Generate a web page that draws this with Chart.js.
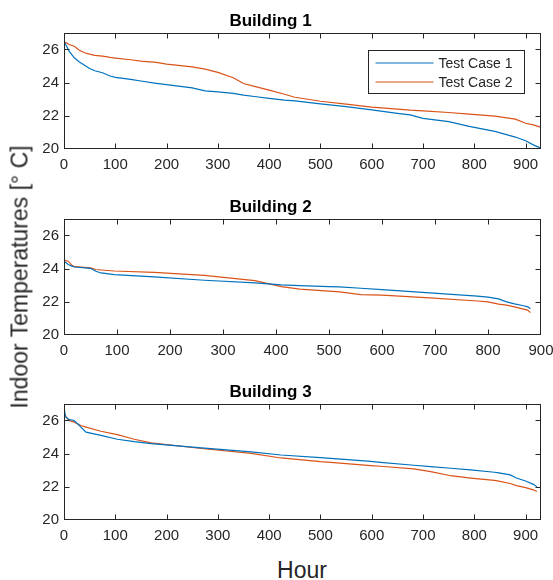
<!DOCTYPE html>
<html>
<head>
<meta charset="utf-8">
<script src="https://cdn.jsdelivr.net/npm/chart.js@4.4.1/dist/chart.umd.min.js"></script>
<style>
  body { margin: 0; background: #fff; }
  #fig { position: relative; width: 553px; height: 580px; font-family: "Liberation Sans", Arial, sans-serif; color: #262626; }
  #fig canvas { position: absolute; left: 0; }
  .ylab { position: absolute; left: 20px; top: 277px; font-size: 23px; white-space: nowrap;
          transform: translate(-50%, -50%) rotate(-90deg); }
  .xlab { position: absolute; left: 302px; top: 570px; font-size: 23px; transform: translate(-50%, -50%); }
</style>
</head>
<body>
<div id="fig">
  <canvas id="c1" width="553" height="174" style="top:0px"></canvas>
  <canvas id="c2" width="553" height="174" style="top:186px"></canvas>
  <canvas id="c3" width="553" height="174" style="top:371px"></canvas>
  <div class="ylab">Indoor Temperatures [° C]</div>
  <div class="xlab">Hour</div>
</div>
<script>
// series names
const seriesNames = ['Test Case 1', 'Test Case 2'];

// tick labels
const xTicks = [0, 100, 200, 300, 400, 500, 600, 700, 800, 900];
const yTicks = [20, 22, 24, 26];

// Building 1
const b1Hours = [0, 5, 10, 20, 30, 40, 50, 60, 75, 90, 100, 130, 150, 180, 200, 250, 275, 300, 330, 350,
                 375, 400, 430, 450, 500, 550, 600, 650, 675, 700, 750, 790, 840, 880, 900, 915, 930];
const b1Case1 = [26.5, 26.2, 25.9, 25.5, 25.25, 25.05, 24.85, 24.72, 24.6, 24.4, 24.32, 24.2, 24.1, 23.96, 23.88, 23.68, 23.5, 23.45, 23.35, 23.25,
                 23.15, 23.05, 22.95, 22.9, 22.72, 22.55, 22.36, 22.15, 22.06, 21.85, 21.65, 21.36, 21.06, 20.72, 20.5, 20.25, 20.05];
const b1Case2 = [26.45, 26.4, 26.3, 26.2, 25.95, 25.8, 25.72, 25.65, 25.6, 25.52, 25.48, 25.38, 25.3, 25.22, 25.12, 24.95, 24.82, 24.62, 24.3, 23.95,
                 23.75, 23.55, 23.3, 23.12, 22.88, 22.7, 22.52, 22.4, 22.34, 22.3, 22.2, 22.1, 21.98, 21.8, 21.55, 21.45, 21.3];

// Building 2
const b2Hours = [0, 8, 15, 20, 50, 60, 70, 95, 170, 265, 360, 385, 410, 445, 500, 520, 560, 600, 690, 780,
                 800, 820, 835, 850, 865, 875, 880];
const b2Case1 = [24.45, 24.25, 24.15, 24.1, 24.02, 23.84, 23.74, 23.64, 23.5, 23.3, 23.14, 23.08, 23.02, 22.98, 22.92, 22.9, 22.82, 22.74, 22.54, 22.34,
                 22.28, 22.18, 22.0, 21.88, 21.78, 21.7, 21.58];
const b2Case2 = [24.5, 24.45, 24.2, 24.12, 24.05, 23.95, 23.92, 23.86, 23.77, 23.6, 23.28, 23.1, 22.92, 22.77, 22.65, 22.6, 22.44, 22.4, 22.24, 22.05,
                 22.0, 21.86, 21.8, 21.7, 21.58, 21.5, 21.35];

// Building 3
const b3Hours = [0, 2, 4, 10, 20, 33, 43, 72, 104, 137, 170, 268, 365, 423, 500, 520, 598, 617, 682, 715,
                 754, 793, 839, 845, 870, 882, 900, 915, 922];
const b3Case1 = [26.8, 26.4, 26.2, 26.05, 26.0, 25.6, 25.3, 25.1, 24.87, 24.72, 24.61, 24.35, 24.11, 23.92, 23.76, 23.72, 23.53, 23.48, 23.3, 23.22,
                 23.12, 23.02, 22.88, 22.86, 22.72, 22.53, 22.35, 22.15, 22.0];
const b3Case2 = [26.5, 26.3, 26.2, 26.0, 25.9, 25.7, 25.6, 25.35, 25.15, 24.87, 24.65, 24.31, 24.02, 23.74, 23.52, 23.48, 23.28, 23.24, 23.08, 22.92,
                 22.67, 22.53, 22.39, 22.36, 22.2, 22.07, 21.95, 21.82, 21.72];

const colors = ['#0072BD', '#D95319'];
const axisColor = '#262626';

Chart.defaults.font.family = '"Liberation Sans", Arial, sans-serif';
Chart.defaults.color = axisColor;

// box round the plot, inward tick marks, and the legend box (MATLAB look)
const framePlugin = {
    id: 'frame',
    afterDatasetsDraw(chart, args, opts) {
        const { ctx, chartArea: a, scales } = chart;
        const L = Math.round(a.left) + 0.5, R = Math.round(a.right) - 0.5;
        const T = Math.round(a.top) + 0.5, B = Math.round(a.bottom) - 0.5;
        ctx.save();
        ctx.strokeStyle = axisColor;
        ctx.lineWidth = 1;
        ctx.strokeRect(L, T, R - L, B - T);
        ctx.beginPath();
        xTicks.forEach(v => {
            const px = Math.round(scales.x.getPixelForValue(v)) + 0.5;
            if (px <= L || px >= R) return;
            ctx.moveTo(px, B); ctx.lineTo(px, B - 5);
            ctx.moveTo(px, T); ctx.lineTo(px, T + 5);
        });
        yTicks.forEach(v => {
            const py = Math.round(scales.y.getPixelForValue(v)) + 0.5;
            if (py <= T || py >= B) return;
            ctx.moveTo(L, py); ctx.lineTo(L + 5, py);
            ctx.moveTo(R, py); ctx.lineTo(R - 5, py);
        });
        ctx.stroke();

        if (opts.legend) {
            const bw = 156, bh = 43;
            const bx = Math.round(a.right - 17 - bw) + 0.5, by = Math.round(a.top + 17) + 0.5;
            ctx.fillStyle = '#fff';
            ctx.fillRect(bx, by, bw, bh);
            ctx.strokeStyle = axisColor;
            ctx.strokeRect(bx, by, bw, bh);
            ctx.font = '14px "Liberation Sans", Arial, sans-serif';
            ctx.textBaseline = 'middle';
            chart.data.datasets.forEach((ds, i) => {
                const ly = by + 12.5 + i * 19;
                ctx.strokeStyle = ds.borderColor;
                ctx.lineWidth = 1.2;
                ctx.beginPath();
                ctx.moveTo(bx + 7, ly); ctx.lineTo(bx + 65, ly);
                ctx.stroke();
                ctx.fillStyle = axisColor;
                ctx.fillText(ds.label, bx + 70, ly + 1);
            });
        }
        ctx.restore();
    }
};

function makeChart(id, title, hours, case1, case2, xMax, showLegend) {
    const toPts = arr => arr.map((v, i) => ({ x: hours[i], y: v }));
    return new Chart(document.getElementById(id), {
        type: 'line',
        data: {
            datasets: [
                { label: seriesNames[0], data: toPts(case1), borderColor: colors[0], borderWidth: 1.2, pointRadius: 0, tension: 0 },
                { label: seriesNames[1], data: toPts(case2), borderColor: colors[1], borderWidth: 1.2, pointRadius: 0, tension: 0 }
            ]
        },
        options: {
            responsive: false,
            animation: false,
            layout: { padding: { left: 0, right: 12, top: 0, bottom: 0 } },
            plugins: {
                legend: { display: false },
                tooltip: { enabled: false },
                title: {
                    display: true, text: title, color: '#000',
                    font: { size: 17, weight: 'bold' },
                    padding: { top: 11, bottom: 1.5 }
                },
                frame: { legend: showLegend }
            },
            scales: {
                x: {
                    type: 'linear', min: 0, max: xMax,
                    afterBuildTicks: s => { s.ticks = xTicks.map(v => ({ value: v })); },
                    // fixed height, and let the last label hang past the plot edge
                    afterFit: s => { s.height = 25; s.paddingLeft = 0; s.paddingRight = 0; },
                    grid: { display: false, drawTicks: false },
                    border: { display: false },
                    ticks: { padding: 7, font: { size: 15 }, color: axisColor, maxRotation: 0, autoSkip: false }
                },
                y: {
                    min: 20, max: 27,
                    afterBuildTicks: s => { s.ticks = yTicks.map(v => ({ value: v })); },
                    afterFit: s => { s.width = 64; s.paddingTop = 0; s.paddingBottom = 0; },
                    grid: { display: false, drawTicks: false },
                    border: { display: false },
                    ticks: { padding: 5, font: { size: 15 }, color: axisColor }
                }
            }
        },
        plugins: [framePlugin]
    });
}

makeChart('c1', 'Building 1', b1Hours, b1Case1, b1Case2, 930, true);
makeChart('c2', 'Building 2', b2Hours, b2Case1, b2Case2, 900, false);
makeChart('c3', 'Building 3', b3Hours, b3Case1, b3Case2, 930, false);
</script>
</body>
</html>
